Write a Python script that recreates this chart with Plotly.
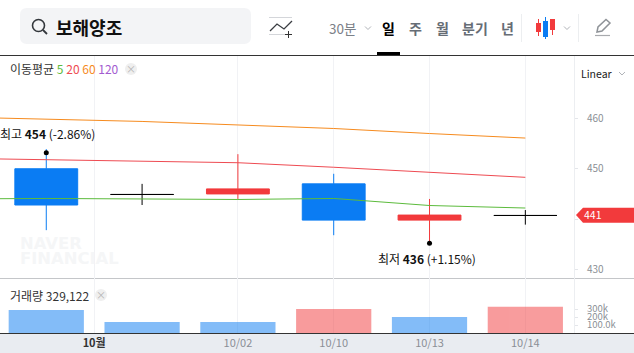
import plotly.graph_objects as go
from plotly.subplots import make_subplots

W, H = 634, 353
FONT = "Noto Sans CJK KR"

# ---- data ----
days = [0, 1, 2, 3, 4, 5]
tick_positions = [0.5, 2, 3, 4, 5]
tick_labels = ["10월", "10/02", "10/10", "10/13", "10/14"]
opens = [450.0, 444.89, 445.0, 447.0, 439.8, 440.72]
highs = [453.9, 447.0, 452.9, 449.0, 444.0, 441.8]
lows = [437.8, 442.8, 444.0, 436.8, 435.5, 438.9]
closes = [442.8, 444.89, 446.0, 439.8, 440.8, 440.72]
volumes = [288000, 138000, 138000, 300000, 200000, 329122]
vol_up = [False, False, False, True, False, True]
ma_days = [-1, 0, 1, 2, 3, 4, 5]
ma5 = [444.0, 444.1, 444.0, 443.9, 444.1, 442.7, 442.2]
ma20 = [452.1, 451.8, 451.5, 451.2, 450.3, 449.3, 448.3]
ma60 = [460.3, 459.9, 459.4, 458.7, 458.0, 457.0, 456.1]
price_ticks = [460, 450, 440, 430]
price_tick_labels = ["460", "450", "", "430"]
vol_ticks = [100000, 200000, 300000]
vol_tick_labels = ["100.0k", "200k", "300k"]
last_label = "441"

BLUE, RED = "#0a7cf3", "#f23a3c"
GRID = "#f1f2f5"


def X(p):
    return p / W


def Y(p):
    return 1 - p / H


def idx(sel):
    return [i for i in range(len(days)) if sel(i)]


fig = make_subplots(rows=2, cols=1, shared_xaxes=True)

# moving averages
for vals, col in [(ma60, "#f68b1f"), (ma20, "#ee4b52"), (ma5, "#5cbb3c")]:
    fig.add_trace(go.Scatter(x=ma_days, y=vals, mode="lines", line=dict(color=col, width=1),
                             hoverinfo="skip", showlegend=False), row=1, col=1)

# candles
groups = [
    (lambda i: closes[i] > opens[i], RED),
    (lambda i: closes[i] < opens[i], BLUE),
    (lambda i: closes[i] == opens[i], "#000000"),
]
for sel, col in groups:
    ii = idx(sel)
    fig.add_trace(go.Candlestick(
        x=[days[i] for i in ii], open=[opens[i] for i in ii], high=[highs[i] for i in ii],
        low=[lows[i] for i in ii], close=[closes[i] for i in ii],
        increasing=dict(line=dict(color=col, width=1), fillcolor=col),
        decreasing=dict(line=dict(color=col, width=1), fillcolor=col),
        whiskerwidth=0, hoverinfo="skip", showlegend=False), row=1, col=1)

# high / low markers
hi = max(range(len(days)), key=lambda i: highs[i])
lo = min(range(len(days)), key=lambda i: lows[i])
fig.add_trace(go.Scatter(x=[days[hi], days[lo]], y=[highs[hi] - 0.7, lows[lo] - 0.3], mode="markers",
                         marker=dict(color="#000", size=5), hoverinfo="skip", showlegend=False), row=1, col=1)

# volume
fig.add_trace(go.Bar(x=days, y=volumes, width=0.785,
                     marker=dict(color=[RED if u else BLUE for u in vol_up], line=dict(width=0)),
                     opacity=0.5, hoverinfo="skip", showlegend=False), row=2, col=1)

x_range = [-0.483, 5.508]
fig.update_xaxes(range=x_range, showgrid=True, gridcolor=GRID, gridwidth=1, zeroline=False,
                 tickmode="array", tickvals=tick_positions, ticktext=[""] * 5, ticks="",
                 showline=False, rangeslider=dict(visible=False), fixedrange=True)
fig.update_xaxes(row=2, col=1, ticktext=[
    f'<span style="color:#333"><b>{t}</b></span>' if i == 0 else t for i, t in enumerate(tick_labels)],
    tickfont=dict(family=FONT, size=11, color="#8b8f96"), ticklabelstandoff=2)
fig.update_yaxes(side="right", showgrid=False, zeroline=False, ticks="outside", ticklen=3,
                 tickcolor="#e4e6ea", showline=False, fixedrange=True,
                 tickfont=dict(family=FONT, size=10, color="#8b8f96"), ticklabelstandoff=7)
fig.update_yaxes(row=1, col=1, range=[428.2, 472.4], tickvals=price_ticks, ticktext=price_tick_labels)
fig.update_yaxes(row=2, col=1, range=[0, 675000], tickvals=vol_ticks, ticktext=vol_tick_labels,
                 tickfont=dict(size=9.5))

shapes = []


def rect(x0, y0, x1, y1, color, layer="below"):
    shapes.append(dict(type="rect", xref="paper", yref="paper", x0=X(x0), x1=X(x1), y0=Y(y0), y1=Y(y1),
                       fillcolor=color, line=dict(width=0), layer=layer))


def seg(x0, y0, x1, y1, color, w=1, layer="above"):
    shapes.append(dict(type="line", xref="paper", yref="paper", x0=X(x0), x1=X(x1), y0=Y(y0), y1=Y(y1),
                       line=dict(color=color, width=w), layer=layer))


def poly(pts, fill=None, line=None, w=1, close=True, layer="above"):
    d = "M" + " L".join(f"{X(a):.5f},{Y(b):.5f}" for a, b in pts) + (" Z" if close else "")
    shapes.append(dict(type="path", xref="paper", yref="paper", path=d, fillcolor=fill or "rgba(0,0,0,0)",
                       line=dict(color=line or "rgba(0,0,0,0)", width=w if line else 0), layer=layer))


def circ(cx, cy, r, fill=None, line=None, w=1):
    shapes.append(dict(type="circle", xref="paper", yref="paper", x0=X(cx - r), x1=X(cx + r), y0=Y(cy - r), y1=Y(cy + r),
                       fillcolor=fill or "rgba(0,0,0,0)", line=dict(color=line or "rgba(0,0,0,0)", width=w if line else 0),
                       layer="above"))


ann = []


def text(x, y, s, size=12, color="#333", anchor="left", family=FONT):
    ann.append(dict(xref="paper", yref="paper", x=X(x), y=Y(y), text=s, showarrow=False, xanchor=anchor, yanchor="middle",
                    font=dict(family=family, size=size, color=color), borderpad=0, borderwidth=0))


# search box (rounded)
r = 7
x0, y0, x1, y1 = 20, 8, 251, 44
d = (f"M{X(x0 + r)},{Y(y0)} L{X(x1 - r)},{Y(y0)} Q{X(x1)},{Y(y0)} {X(x1)},{Y(y0 + r)} "
     f"L{X(x1)},{Y(y1 - r)} Q{X(x1)},{Y(y1)} {X(x1 - r)},{Y(y1)} L{X(x0 + r)},{Y(y1)} "
     f"Q{X(x0)},{Y(y1)} {X(x0)},{Y(y1 - r)} L{X(x0)},{Y(y0 + r)} Q{X(x0)},{Y(y0)} {X(x0 + r)},{Y(y0)} Z")
shapes.append(dict(type="path", xref="paper", yref="paper", path=d, fillcolor="#f3f4f6", line=dict(width=0), layer="below"))
circ(38.5, 25.5, 6, line="#33373c", w=1.6)
seg(43, 30, 47, 34, "#33373c", 1.8)
text(56, 26.5, "<b>보해양조</b>", 18, "#111")

# indicator icon
seg(269, 17.5, 292, 17.5, "#d4d6da")
seg(269, 34.5, 288, 34.5, "#d4d6da")
poly([(270, 31), (277, 24), (284, 29), (292, 21)], line="#3a3d42", w=1.3, close=False)
seg(288.5, 31, 288.5, 38, "#333", 1)
seg(285, 34.5, 292, 34.5, "#333", 1)

# period tabs
text(342, 28, "30분", 13.5, "#7b8087", "center")
poly([(365, 26.5), (368, 29.5), (371, 26.5)], line="#b0b3b8", close=False)
text(388.5, 28, "<b>일</b>", 14, "#000", "center")
text(415, 28, "<b>주</b>", 14, "#666d75", "center")
text(442, 28, "<b>월</b>", 14, "#666d75", "center")
text(474.5, 28, "<b>분기</b>", 14, "#666d75", "center")
text(507.5, 28, "<b>년</b>", 14, "#666d75", "center")
rect(377, 52, 400, 55, "#000", "above")
seg(521.5, 14, 521.5, 42, "#eceef0")
seg(578.5, 14, 578.5, 42, "#eceef0")

# candle icon
seg(538.5, 19, 538.5, 36, RED)
rect(536, 23, 541, 32, RED, "above")
seg(545.5, 17, 545.5, 39, BLUE)
rect(543, 21, 548, 37, BLUE, "above")
seg(552.5, 19, 552.5, 35, RED)
rect(550, 19, 555, 30, RED, "above")
poly([(564, 26.5), (567, 29.5), (570, 26.5)], line="#b0b3b8", close=False)

# pencil icon
poly([(597, 32), (598, 27), (606, 19.5), (610, 23), (602, 31)], line="#8f9398", w=1.5)
seg(595, 35.5, 610, 35.5, "#a8aaae", 1.2)

# frame lines
seg(0, 55.5, W, 55.5, "#333", 1)
seg(0, 278.5, W, 278.5, "#c4c6c9", 1, "below")
rect(0, 333, W, H, "#e9ecf1")
seg(0, 333.5, W, 333.5, "#333", 1)
seg(574.5, 56, 574.5, 333, "#eceef1", 1, "below")

# legends
text(10, 68.5,
     '이동평균 <span style="color:#5cbb3c">5</span> <span style="color:#ee4b52">20</span> '
     '<span style="color:#f68b1f">60</span> <span style="color:#a25bd0">120</span>', 12, "#333")
circ(131, 69, 6, fill="#efefef")
text(131, 68.5, "×", 10, "#b5b5b5", "center")
text(10, 295, "거래량 329,122", 12, "#333")
circ(101, 295, 6, fill="#efefef")
text(101, 294.5, "×", 10, "#b5b5b5", "center")
text(581, 73, "Linear", 10.5, "#222")
poly([(619, 72), (622, 75), (625, 72)], line="#b0b3b8", close=False)

# watermark
text(20, 243.5, "<b>NAVER</b>", 16.4, "#f5f6f7", family="DejaVu Sans")
text(20, 258.5, "<b>FINANCIAL</b>", 16.4, "#f5f6f7", family="DejaVu Sans")

# last price tag
poly([(576, 215), (583, 207.7), (634, 207.7), (634, 222.7), (583, 222.7)], fill=RED)
text(584, 214.5, last_label, 10.5, "#fff")

# high/low annotation
text(47, 133, "최고 <b>454</b> (-2.86%)", 12, "#111", "center")
text(427, 258, "최저 <b>436</b> (+1.15%)", 12, "#111", "center")

fig.update_layout(
    width=W, height=H, margin=dict(l=0, r=0, t=0, b=0), autosize=False,
    paper_bgcolor="#fff", plot_bgcolor="rgba(0,0,0,0)", showlegend=False,
    boxgap=0.344, boxgroupgap=0, shapes=shapes, annotations=ann,
    font=dict(family=FONT),
    xaxis=dict(domain=[0, 574 / W]), xaxis2=dict(domain=[0, 574 / W]),
    yaxis=dict(domain=[Y(278.5), Y(56)]), yaxis2=dict(domain=[Y(333), Y(279)]),
)
fig.write_html("out.html", config=dict(displayModeBar=False),
               post_script="document.body.style.margin='0';document.body.style.overflow='hidden';")
